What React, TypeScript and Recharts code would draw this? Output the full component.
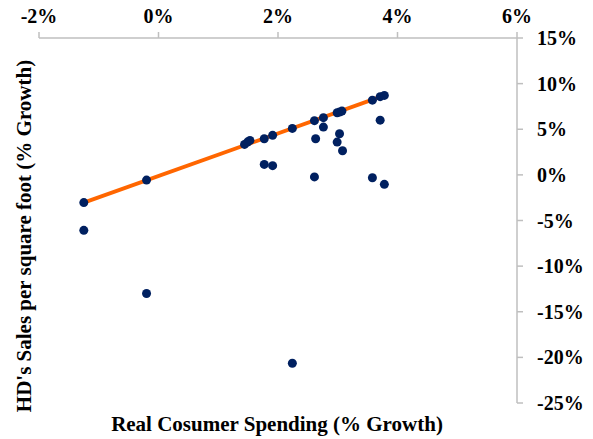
import { ScatterChart, Scatter, XAxis, YAxis } from "recharts";

// Real consumer spending growth (%), one entry per observation
const spendingGrowth = [
  -1.25, -1.25, -0.2, -0.2, 1.44, 1.49, 1.53, 1.77, 1.91, 1.77, 1.91, 2.24, 2.61, 2.63, 2.61,
  2.76, 2.76, 2.99, 3.03, 3.07, 3.03, 2.99, 3.08, 3.58, 3.71, 3.78, 3.71, 3.58, 3.78, 2.24,
];
// HD sales per square foot growth (%)
const salesGrowth = [
  -3.04, -6.08, -0.57, -13.0, 3.34, 3.59, 3.78, 3.96, 4.33, 1.15, 1.01, 5.09, 5.94, 3.96, -0.22,
  6.27, 5.24, 6.81, 6.88, 6.99, 4.51, 3.59, 2.65, 8.19, 8.57, 8.71, 6.0, -0.31, -1.04, -20.65,
];

// fitted trend line end points
const trendX = [-1.25, 3.78];
const trendY = [-3.04, 8.71];

const xTicks = [-2, 0, 2, 4, 6];
const yTicks = [15, 10, 5, 0, -5, -10, -15, -20, -25];

const points = spendingGrowth.map((x, i) => ({ x, y: salesGrowth[i] }));
const trend = trendX.map((x, i) => ({ x, y: trendY[i] }));

const font = "'Liberation Serif', 'Times New Roman', serif";
const axisGray = "#BFBFBF";
const tickStyle = { fill: "#000", fontSize: 20, fontWeight: 700, fontFamily: font };
const pct = (v: number) => `${v}%`;

const Dot = (props: any) => <circle cx={props.cx} cy={props.cy} r={4.5} fill="#002060" />;

export default function App() {
  return (
    <div style={{ position: "absolute", left: 0, top: 0, width: 593, height: 439, background: "#fff" }}>
      <ScatterChart width={593} height={439} margin={{ top: 8, right: 6, bottom: 36, left: 39 }}>
        <XAxis
          type="number"
          dataKey="x"
          orientation="top"
          domain={[-2, 6]}
          ticks={xTicks}
          interval={0}
          tickFormatter={pct}
          height={30}
          axisLine={{ stroke: axisGray, strokeWidth: 1.5 }}
          tickLine={{ stroke: axisGray, strokeWidth: 1.5 }}
          tickSize={6}
          tickMargin={9}
          tick={tickStyle}
        />
        <YAxis
          type="number"
          dataKey="y"
          orientation="right"
          domain={[-25, 15]}
          ticks={yTicks}
          interval={0}
          tickFormatter={pct}
          width={70}
          axisLine={{ stroke: axisGray, strokeWidth: 1.5 }}
          tickLine={{ stroke: axisGray, strokeWidth: 1.5 }}
          tickSize={6}
          tickMargin={14}
          tick={tickStyle}
        />
        <Scatter
          data={trend}
          fill="#FF6600"
          line={{ stroke: "#FF6600", strokeWidth: 3.8 }}
          lineType="joint"
          shape={() => <g />}
          isAnimationActive={false}
        />
        <Scatter data={points} fill="#002060" shape={Dot} isAnimationActive={false} />
      </ScatterChart>
      <div
        style={{
          position: "absolute",
          left: 277,
          top: 424,
          transform: "translate(-50%, -50%)",
          whiteSpace: "nowrap",
          fontFamily: font,
          fontWeight: 700,
          fontSize: 21,
        }}
      >
        Real Cosumer Spending (% Growth)
      </div>
      <div
        style={{
          position: "absolute",
          left: 24,
          top: 236,
          transform: "translate(-50%, -50%) rotate(-90deg)",
          whiteSpace: "nowrap",
          fontFamily: font,
          fontWeight: 700,
          fontSize: 21,
        }}
      >
        HD's Sales per square foot (% Growth)
      </div>
    </div>
  );
}
